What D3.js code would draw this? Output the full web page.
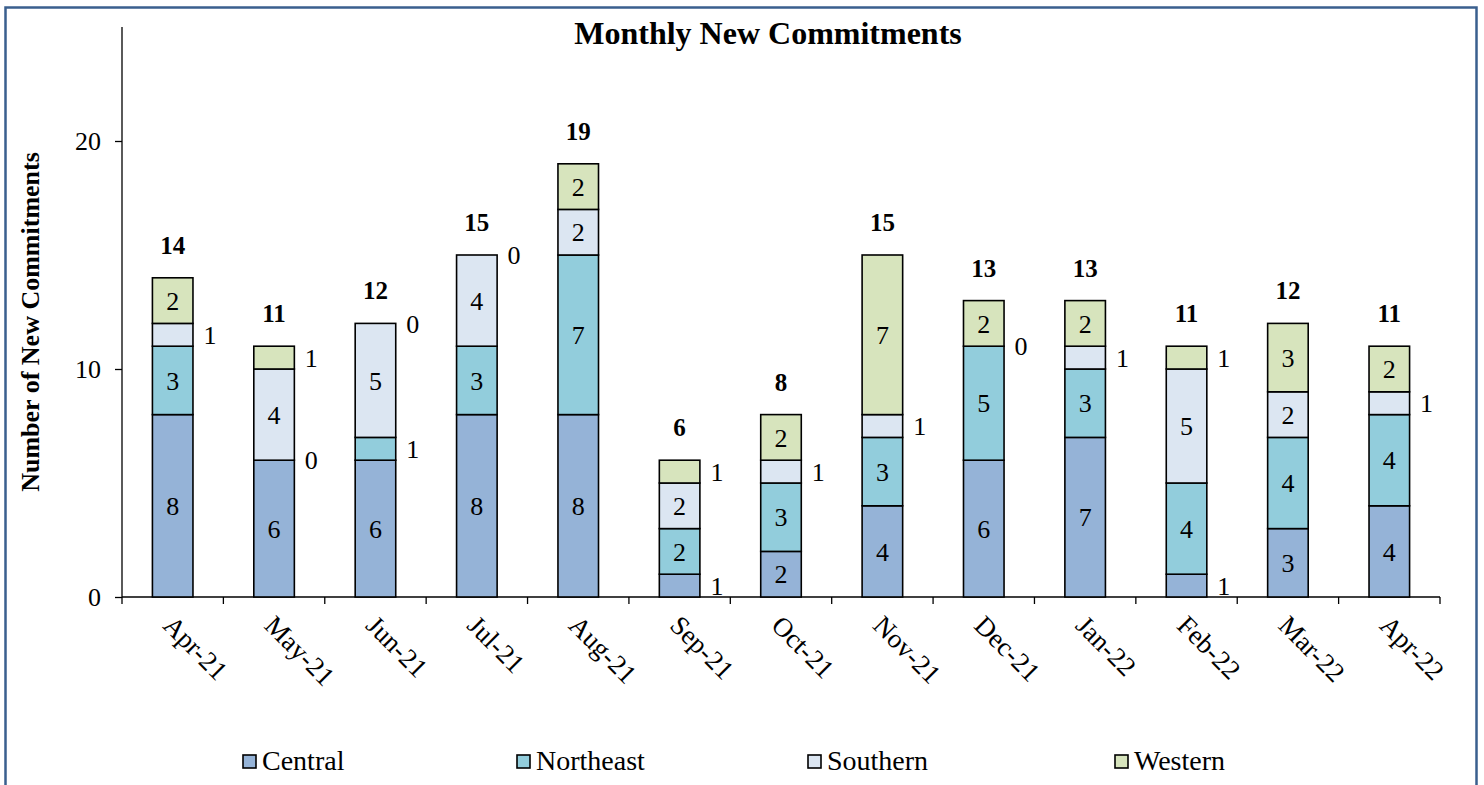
<!DOCTYPE html>
<html>
<head>
<meta charset="utf-8">
<script src="https://d3js.org/d3.v7.min.js"></script>
<style>
  html, body { margin: 0; padding: 0; background: #fff; }
  svg { display: block; }
  text { font-family: "Liberation Serif", "Times New Roman", serif; fill: #000; }
</style>
</head>
<body>
<svg id="chart" width="1484" height="785"></svg>
<script>
const months = ["Apr-21","May-21","Jun-21","Jul-21","Aug-21","Sep-21","Oct-21","Nov-21","Dec-21","Jan-22","Feb-22","Mar-22","Apr-22"];
const seriesNames = ["Central","Northeast","Southern","Western"];
const central   = [8,6,6,8,8,1,2,4,6,7,1,3,4];
const northeast = [3,0,1,3,7,2,3,3,5,3,4,4,4];
const southern  = [1,4,5,4,2,2,1,1,0,1,5,2,1];
const western   = [2,1,0,0,2,1,2,7,2,2,1,3,2];
const yTicks = [0,10,20];
const colors = ["#95B3D7","#92CDDC","#DCE6F2","#D7E4BD"];

const svg = d3.select("#chart");

// outer border
svg.append("rect").attr("x",5.5).attr("y",7.5).attr("width",1471).attr("height",790)
  .attr("fill","none").attr("stroke","#3A5F8E").attr("stroke-width",2.5);

const left = 122, right = 1440, bottom = 597;
const y = d3.scaleLinear().domain([0,25]).range([bottom, 27]);
const x = d3.scaleBand().domain(months).range([left,right]).paddingInner(0.6).paddingOuter(0.3);

const rows = months.map((m,i)=>({month:m, Central:central[i], Northeast:northeast[i], Southern:southern[i], Western:western[i]}));
const stacked = d3.stack().keys(seriesNames)(rows);

// title
svg.append("text").attr("x",768).attr("y",44).attr("text-anchor","middle")
  .style("font-size","32px").style("font-weight","bold").text("Monthly New Commitments");

// y axis label
svg.append("text").attr("transform","translate(39,322) rotate(-90)").attr("text-anchor","middle")
  .style("font-size","26px").style("font-weight","bold").text("Number of New Commitments");

// y axis
const yAxis = d3.axisLeft(y).tickValues(yTicks).tickSize(7).tickPadding(14).tickFormat(d3.format("d"));
const gy = svg.append("g").attr("transform",`translate(${left},0)`).call(yAxis);
gy.select(".domain").attr("d",`M0,${y(25)}V${bottom}`).attr("stroke","#000").attr("stroke-width",1.3);
gy.selectAll(".tick line").attr("stroke","#000").attr("stroke-width",1.3);
gy.selectAll(".tick text").style("font-size","26px").attr("fill","#000");

// x axis line and tick marks at boundaries
svg.append("line").attr("x1",left).attr("x2",right).attr("y1",bottom).attr("y2",bottom)
  .attr("stroke","#000").attr("stroke-width",1.3);
const step = x.step();
const bounds = d3.range(months.length+1).map(i => x(months[0]) - step*x.paddingOuter() + i*step);
svg.selectAll(".xtick").data(bounds).join("line").attr("class","xtick")
  .attr("x1",d=>d).attr("x2",d=>d).attr("y1",bottom).attr("y2",bottom+7)
  .attr("stroke","#000").attr("stroke-width",1.3);

// x labels rotated
svg.selectAll(".xlab").data(months).join("text").attr("class","xlab")
  .attr("transform", d => `translate(${x(d)+x.bandwidth()/2-11},${bottom+30}) rotate(45)`)
  .attr("text-anchor","start").style("font-size","27px").text(d=>d);

// bars
const g = svg.append("g");
stacked.forEach((s,si) => {
  g.selectAll(".bar"+si).data(s).join("rect").attr("class","bar"+si)
    .attr("x", d => x(d.data.month))
    .attr("width", x.bandwidth())
    .attr("y", d => y(d[1]))
    .attr("height", d => y(d[0]) - y(d[1]))
    .attr("fill", colors[si]).attr("stroke","#000").attr("stroke-width",1.6);
});

// segment labels
stacked.forEach((s,si) => {
  g.selectAll(".lab"+si).data(s).join("text").attr("class","lab"+si)
    .attr("x", d => (d[1]-d[0]) >= 2 ? x(d.data.month)+x.bandwidth()/2 : x(d.data.month)+x.bandwidth()+17)
    .attr("y", d => y((d[0]+d[1])/2))
    .attr("dy","0.35em")
    .attr("text-anchor","middle")
    .style("font-size","26px")
    .text(d => d[1]-d[0]);
});

// totals
const totals = months.map((m,i)=>central[i]+northeast[i]+southern[i]+western[i]);
g.selectAll(".tot").data(months).join("text").attr("class","tot")
  .attr("x", d => x(d)+x.bandwidth()/2)
  .attr("y", (d,i) => y(totals[i]) - 24)
  .attr("text-anchor","middle").style("font-size","25px").style("font-weight","bold")
  .text((d,i)=>totals[i]);

// legend
const legX = [243, 517, 808, 1115];
const leg = svg.selectAll(".leg").data(seriesNames).join("g").attr("class","leg")
  .attr("transform",(d,i)=>`translate(${legX[i]},755)`);
leg.append("rect").attr("width",13).attr("height",13).attr("fill",(d,i)=>colors[i])
  .attr("stroke","#000").attr("stroke-width",1.6);
leg.append("text").attr("x",19).attr("y",15).style("font-size","28px").text(d=>d);
</script>
</body>
</html>
